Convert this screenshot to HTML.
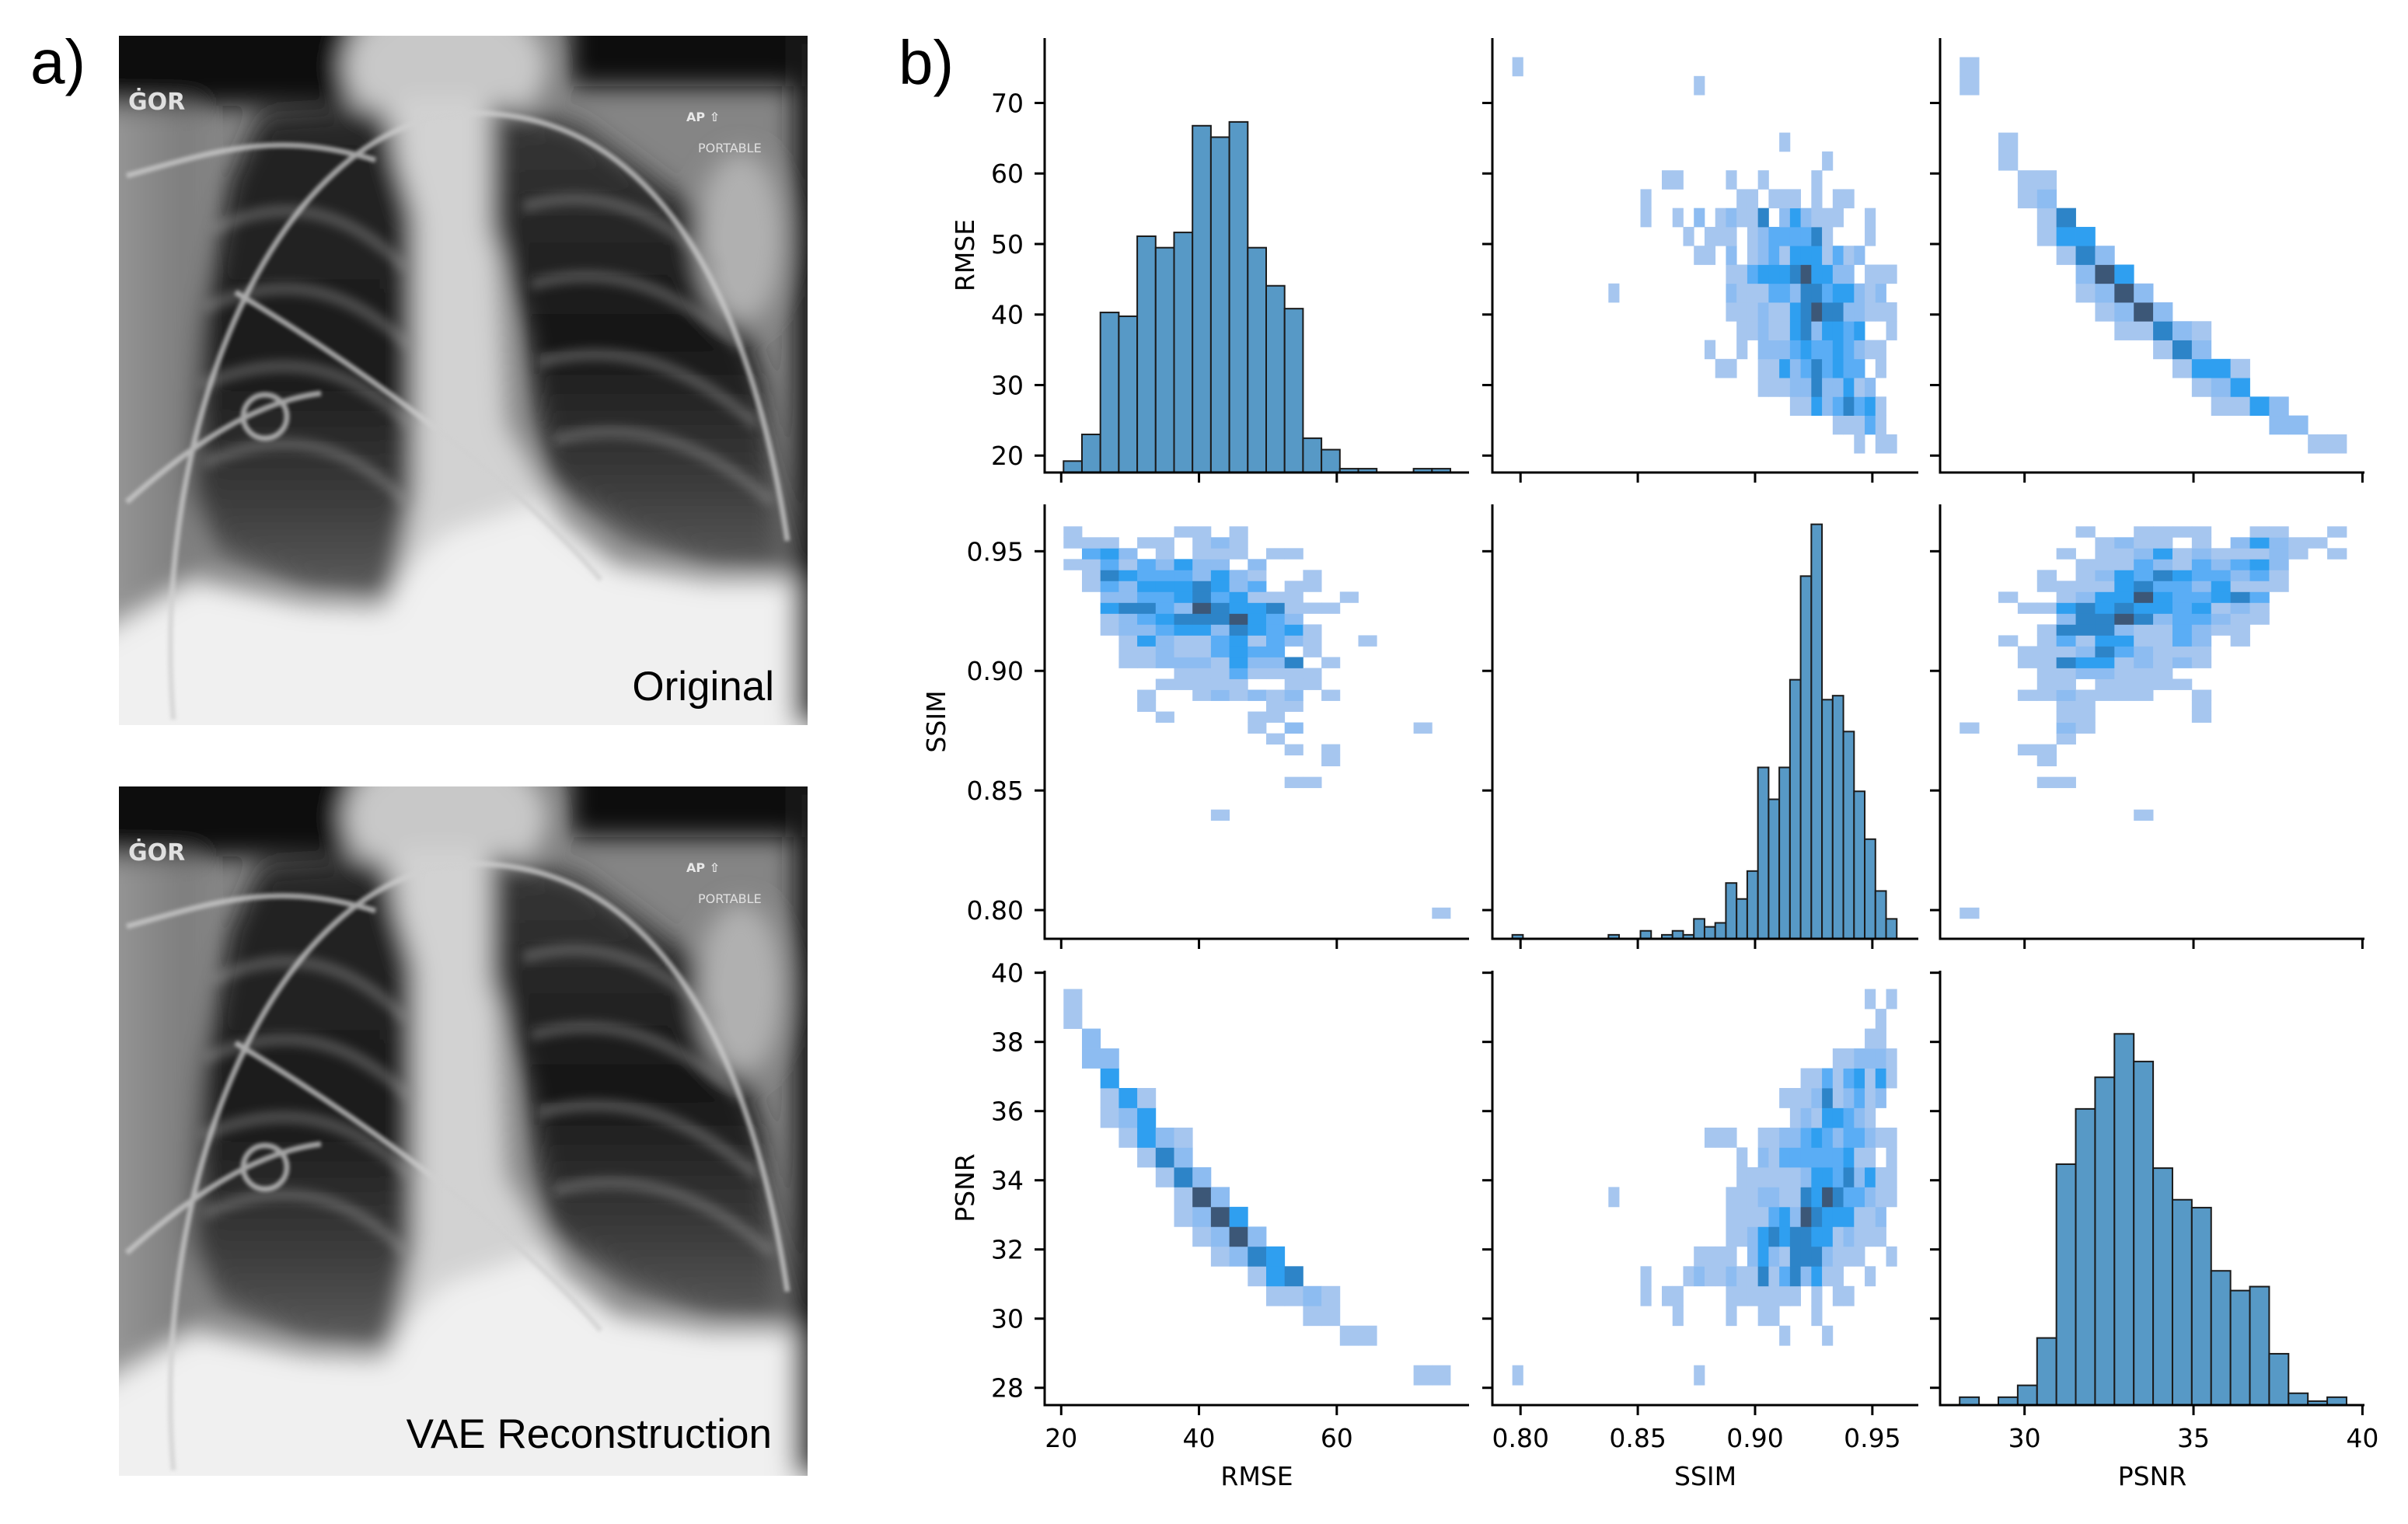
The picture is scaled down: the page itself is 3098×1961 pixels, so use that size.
<!DOCTYPE html>
<html><head><meta charset="utf-8"><style>
html,body{margin:0;padding:0;background:#fff;}
svg{display:block;}
</style></head><body>
<svg id="fig" width="3098" height="1961" viewBox="0 0 3098 1961" xmlns="http://www.w3.org/2000/svg">
<defs>
 <filter id="blur" filterUnits="userSpaceOnUse" x="-200" y="-200" width="1300" height="1300"><feGaussianBlur stdDeviation="16"/></filter>
 <filter id="blurS" filterUnits="userSpaceOnUse" x="-200" y="-200" width="1300" height="1300"><feGaussianBlur stdDeviation="7"/></filter>
 <filter id="blur2" filterUnits="userSpaceOnUse" x="-200" y="-200" width="1300" height="1300"><feGaussianBlur stdDeviation="2.5"/></filter>
 <clipPath id="xclip"><rect x="0" y="0" width="886" height="887"/></clipPath>
 <linearGradient id="lungL" x1="0" y1="0" x2="0" y2="1"><stop offset="0" stop-color="#262626"/><stop offset="0.55" stop-color="#1c1c1c"/><stop offset="0.8" stop-color="#3c3c3c"/><stop offset="1" stop-color="#5e5e5e"/></linearGradient>
 <linearGradient id="lungR" x1="0" y1="0" x2="0" y2="1"><stop offset="0" stop-color="#3a3a3a"/><stop offset="0.5" stop-color="#161616"/><stop offset="0.8" stop-color="#3a3a3a"/><stop offset="1" stop-color="#5a5a5a"/></linearGradient>
 <linearGradient id="sideL" x1="0" y1="0" x2="1" y2="0"><stop offset="0" stop-color="#a0a0a0"/><stop offset="1" stop-color="#7a7a7a"/></linearGradient>
 <g id="xray-art" clip-path="url(#xclip)">
  <rect x="0" y="0" width="886" height="887" fill="#858585"/>
  <g filter="url(#blur)">
   <rect x="-50" y="60" width="150" height="900" fill="url(#sideL)"/>
   <rect x="-60" y="-60" width="360" height="150" fill="#080808"/>
   <rect x="580" y="-60" width="360" height="125" fill="#0c0c0c"/>
   <ellipse cx="420" cy="40" rx="130" ry="90" fill="#c8c8c8"/>
   <polygon points="360,80 480,80 500,500 560,600 600,700 330,720 340,500" fill="#d2d2d2"/>
   <polygon points="184,101 338,94 380,234 380,585 352,725 240,711 128,662 93,585 107,375 142,185" fill="url(#lungL)"/>
   <polygon points="478,87 591,115 760,234 830,445 858,690 759,683 654,641 549,571 520,375 478,248" fill="url(#lungR)"/>
   <polygon points="360,700 420,640 540,600 640,680 760,700 900,700 900,940 -40,940 -40,780 100,700 240,730 340,735" fill="#f0f0f0"/>
   <ellipse cx="800" cy="260" rx="55" ry="110" fill="#b0b0b0"/>
   <rect x="868" y="0" width="60" height="887" fill="#1a1a1a"/>
  </g>
  <g filter="url(#blurS)" stroke="#9a9a9a" stroke-width="14" fill="none" opacity="0.45">
   <path d="M120,250 C220,200 300,230 370,300"/>
   <path d="M110,350 C220,300 300,330 375,400"/>
   <path d="M105,450 C220,400 300,430 375,500"/>
   <path d="M110,550 C220,500 300,530 370,600"/>
   <path d="M520,220 C620,190 700,230 770,300"/>
   <path d="M530,320 C640,290 720,330 800,400"/>
   <path d="M540,420 C650,390 740,430 820,500"/>
   <path d="M560,520 C670,490 760,530 840,600"/>
  </g>
  <g filter="url(#blur2)" fill="none" stroke="#d0d0d0" stroke-width="7" opacity="0.75">
   <path d="M70,880 C40,500 200,120 440,100 C640,90 800,250 860,650"/>
   <path d="M10,180 C120,150 200,120 330,160"/>
   <path d="M10,600 C100,520 180,470 260,460"/>
   <circle cx="188" cy="490" r="28"/>
   <path d="M150,330 C300,420 500,560 620,700"/>
  </g>
  <text x="12" y="95" font-family="DejaVu Sans, sans-serif" font-size="30" font-weight="bold" fill="#e0e0e0">ĠOR</text>
  <text x="730" y="110" font-family="DejaVu Sans, sans-serif" font-size="16" font-weight="bold" fill="#e8e8e8">AP ⇧</text>
  <text x="745" y="150" font-family="DejaVu Sans, sans-serif" font-size="16" fill="#e0e0e0">PORTABLE</text>
 </g>
</defs>
<text x="39" y="107" font-family="Liberation Sans, sans-serif" font-size="80" fill="#000">a)</text>
<text x="1156" y="108" font-family="Liberation Sans, sans-serif" font-size="80" fill="#000">b)</text>
<g transform="translate(153,46)"><use href="#xray-art"/></g>
<text x="996" y="901" text-anchor="end" font-family="Liberation Sans, sans-serif" font-size="53" fill="#000">Original</text>
<g transform="translate(153,1012)"><use href="#xray-art"/></g>
<text x="993" y="1863" text-anchor="end" font-family="Liberation Sans, sans-serif" font-size="53" fill="#000">VAE Reconstruction</text>
<g id="pairplot"></g>
</svg>
<script>
// ---- data ----
const varNames = ['RMSE', 'SSIM', 'PSNR'];
const rmseDomain = [17.6, 79.2];
const ssimDomain = [0.788, 0.9696];
const psnrDomain = [27.5, 40.06];
const rmseTicks = [20, 30, 40, 50, 60, 70];
const rmseXTicks = [20, 40, 60];
const ssimTicks = [0.80, 0.85, 0.90, 0.95];
const psnrYTicks = [28, 30, 32, 34, 36, 38, 40];
const psnrXTicks = [30, 35, 40];
const rmseBins = [20.34, 2.674, 21];
const ssimBins = [0.7965, 0.004553, 36];
const psnrBins = [28.08, 0.5725, 20];
const rmseCounts = [3,10,42,41,62,59,63,91,88,92,59,49,43,9,6,1,1,0,0,1,1];
const ssimCounts = [1,0,0,0,0,0,0,0,0,1,0,0,2,0,1,2,1,5,3,4,14,10,17,43,35,43,65,91,104,60,61,52,37,25,12,5];
const psnrCounts = [2,0,2,5,17,61,75,83,94,87,60,52,50,34,29,30,13,3,1,2];
const countMax = [114, 109, 110];
// 2D histogram cells: key = bin of first var, "bin:level" of second var
const rmseSsimCells = {
 20:'0:1', 19:'17:1', 16:'25:1', 15:'29:1',
 14:'14:1 15:1 20:1 23:1 28:1',
 13:'12:1 21:1 22:1 24:1 25:1 26:1 28:1 30:1 31:1',
 12:'12:1 15:1 17:2 19:1 20:2 21:1 22:1 23:5 25:2 26:4 27:2 28:1 29:1 30:1 33:1',
 11:'16:1 18:1 19:1 20:1 22:1 23:2 24:3 25:3 26:3 27:3 28:5 29:1 33:1',
 10:'17:1 18:1 20:2 22:1 23:2 24:3 25:1 26:4 27:4 28:4 29:1 30:3 31:1 32:2',
 9:'20:1 21:1 22:3 23:4 24:4 25:4 26:5 27:6 28:4 29:4 30:2 31:2 33:1 34:1 35:1',
 8:'9:1 20:2 21:1 22:1 23:1 24:3 25:3 26:2 27:5 28:5 29:3 30:4 31:4 32:2 33:1 34:2',
 7:'20:1 21:1 22:1 23:2 24:1 25:1 26:4 27:5 28:6 29:5 30:5 31:2 32:2 33:1 34:1 35:1',
 6:'21:1 22:1 23:2 24:1 25:1 26:4 27:5 28:2 29:4 30:4 31:3 32:4 35:1',
 5:'18:1 21:1 23:2 24:2 25:2 26:3 27:4 28:3 29:3 30:4 31:3 32:2 33:1 34:1',
 4:'19:1 20:1 23:1 24:1 25:4 26:2 27:3 28:5 29:3 30:4 31:3 32:3 34:1',
 3:'23:1 24:1 25:1 26:2 27:2 28:5 29:2 30:2 31:4 32:1 33:2',
 2:'26:1 27:1 28:4 29:2 30:3 31:5 32:3 33:4 34:1',
 1:'30:1 31:1 32:1 33:3 34:1',
 0:'32:1 34:1 35:1'
};
const rmsePsnrCells = {
 20:'0:1', 19:'0:1', 16:'2:1', 15:'2:1', 14:'3:1 4:1', 13:'3:1 4:2',
 12:'4:1 5:5', 11:'4:1 5:4 6:4', 10:'5:1 6:5 7:2', 9:'6:2 7:6 8:4',
 8:'6:1 7:2 8:6 9:2', 7:'7:1 8:2 9:6 10:2', 6:'8:1 9:1 10:5 11:2 12:1',
 5:'10:1 11:5 12:2', 4:'11:1 12:4 13:4 14:1', 3:'12:1 13:2 14:4',
 2:'13:1 14:1 15:4 16:2', 1:'16:2 17:2', 0:'18:1 19:1'
};
const psnrSsimCells = {
 19:'33:1 35:1', 18:'34:1', 17:'33:1 34:1',
 16:'30:1 31:1 32:2 33:2 34:2 35:1',
 15:'27:1 28:1 29:3 30:1 31:3 32:4 33:1 34:4 35:1',
 14:'25:1 26:1 27:1 28:2 29:5 30:1 31:2 32:3 33:1 34:2',
 13:'26:1 27:2 28:1 29:4 30:4 31:3 32:2 33:1',
 12:'18:1 19:1 20:1 23:1 24:1 25:2 26:2 27:3 28:4 29:3 30:2 31:3 32:3 33:2 34:1 35:1',
 11:'21:1 23:2 24:1 25:3 26:3 27:3 28:3 29:3 30:3 31:4 32:1 33:1 35:1',
 10:'21:1 22:1 23:1 24:1 25:1 26:1 27:2 28:4 29:4 30:3 31:5 32:2 33:4 34:1 35:1',
 9:'9:1 20:1 21:1 22:1 23:2 24:2 25:1 26:1 27:5 28:4 29:6 30:5 31:3 32:3 33:2 34:1 35:1',
 8:'20:1 21:1 22:1 23:1 24:3 25:4 26:2 27:6 28:5 29:4 30:4 31:4 32:1 33:1 34:2',
 7:'20:1 21:1 22:2 23:4 24:5 25:4 26:5 27:5 28:4 29:4 30:1 31:2 32:1 33:1 34:1',
 6:'17:1 18:1 19:1 20:1 22:2 23:4 24:2 25:1 26:5 27:5 28:5 29:2 30:1 31:1 32:1 35:1',
 5:'12:1 16:1 17:2 18:1 19:1 20:2 21:1 22:1 23:5 24:1 25:3 26:5 27:2 28:4 29:1 30:1 33:1',
 4:'12:1 14:1 15:1 20:1 21:1 22:1 23:1 24:1 25:1 26:1 28:1 30:1 31:1',
 3:'15:1 20:1 23:1 24:1 28:1',
 2:'25:1 29:1',
 0:'0:1 17:1'
};
const levelColors = ['none', '#a6c6ef', '#8dbcf1', '#5aadf5', '#2f9ff0', '#2d84c8', '#3c5777'];

// ---- layout ----
const colX = [1344, 1920, 2496];
const colW = [546, 548, 546];
const rowY = [49, 649, 1249];
const rowH = 559;
const domains = [rmseDomain, ssimDomain, psnrDomain];
const bins = [rmseBins, ssimBins, psnrBins];
const counts = [rmseCounts, ssimCounts, psnrCounts];
const yTicks = [rmseTicks, ssimTicks, psnrYTicks];
const xTicks = [rmseXTicks, ssimTicks, psnrXTicks];
const ylabelX = [1253, 1216, 1253];
const NS = 'http://www.w3.org/2000/svg';
const root = document.getElementById('pairplot');

function sx(v, c, val) { const d = domains[v]; return colX[c] + (val - d[0]) / (d[1] - d[0]) * colW[c]; }
function sy(v, r, val) { const d = domains[v]; return rowY[r] + rowH - (val - d[0]) / (d[1] - d[0]) * rowH; }
function mk(tag, attrs, parent) {
  const e = document.createElementNS(NS, tag);
  for (const k in attrs) e.setAttribute(k, attrs[k]);
  (parent || root).appendChild(e);
  return e;
}
function fmt(v, idx) { return idx === 1 ? v.toFixed(2) : String(v); }
function parseCells(obj) {
  const out = [];
  for (const a in obj) {
    obj[a].split(' ').forEach(p => { const q = p.split(':'); out.push([+a, +q[0], +q[1]]); });
  }
  return out;
}
const pairs = [
  {a: 0, b: 1, cells: parseCells(rmseSsimCells)},
  {a: 0, b: 2, cells: parseCells(rmsePsnrCells)},
  {a: 2, b: 1, cells: parseCells(psnrSsimCells)}
];

for (let r = 0; r < 3; r++) {
  for (let c = 0; c < 3; c++) {
    const g = mk('g', {});
    
    
    const bottom = rowY[r] + rowH;
    if (r === c) {
      const b = bins[c];
      counts[c].forEach((n, i) => {
        if (n <= 0) return;
        const x0 = sx(c, c, b[0] + i * b[1]), x1 = sx(c, c, b[0] + (i + 1) * b[1]);
        const h = n / countMax[c] * rowH;
        const bar = mk('rect', {x: x0, y: bottom - h, width: x1 - x0, height: h, fill: '#5799c6', stroke: '#1b1b1b', 'stroke-width': 2}, g);
        
        
      });
    } else {
      const p = pairs.find(q => (q.a === r && q.b === c) || (q.a === c && q.b === r));
      p.cells.forEach(cell => {
        const xv = (p.a === c) ? cell[0] : cell[1];
        const yv = (p.a === r) ? cell[0] : cell[1];
        const bx = bins[c], by = bins[r];
        const x0 = sx(c, c, bx[0] + xv * bx[1]), x1 = sx(c, c, bx[0] + (xv + 1) * bx[1]);
        const y0 = sy(r, r, by[0] + (yv + 1) * by[1]), y1 = sy(r, r, by[0] + yv * by[1]);
        const cellEl = mk('rect', {x: x0, y: y0, width: x1 - x0 + 0.4, height: y1 - y0 + 0.4, fill: levelColors[cell[2]]}, g);
        
        
      });
    }
    const sp = mk('path', {d: 'M' + colX[c] + ',' + rowY[r] + ' V' + bottom + ' H' + (colX[c] + colW[c]), fill: 'none', stroke: '#000', 'stroke-width': 3}, g);
    
    
    yTicks[r].forEach(t => {
      const y = sy(r, r, t);
      const tk = mk('line', {x1: colX[c] - 13, x2: colX[c], y1: y, y2: y, stroke: '#000', 'stroke-width': 3}, g);
      
      
      if (c === 0) {
        const tl = mk('text', {x: colX[c] - 27, y: y + 12, 'text-anchor': 'end', 'font-family': 'DejaVu Sans, sans-serif', 'font-size': 33, fill: '#000'}, g);
        tl.textContent = fmt(t, r);
        
        
      }
    });
    xTicks[c].forEach(t => {
      const x = sx(c, c, t);
      const tk = mk('line', {x1: x, x2: x, y1: bottom, y2: bottom + 13, stroke: '#000', 'stroke-width': 3}, g);
      
      
      if (r === 2) {
        const tl = mk('text', {x: x, y: bottom + 54, 'text-anchor': 'middle', 'font-family': 'DejaVu Sans, sans-serif', 'font-size': 33, fill: '#000'}, g);
        tl.textContent = fmt(t, c);
        
        
      }
    });
    if (c === 0) {
      const cy = rowY[r] + rowH / 2;
      const yl = mk('text', {x: ylabelX[r], y: cy, transform: 'rotate(-90 ' + ylabelX[r] + ' ' + cy + ')', 'text-anchor': 'middle', 'font-family': 'DejaVu Sans, sans-serif', 'font-size': 33, fill: '#000'}, g);
      yl.textContent = varNames[r];
      
      
    }
    if (r === 2) {
      const xl = mk('text', {x: colX[c] + colW[c] / 2, y: 1911, 'text-anchor': 'middle', 'font-family': 'DejaVu Sans, sans-serif', 'font-size': 33, fill: '#000'}, g);
      xl.textContent = varNames[c];
      
      
    }
  }
}
</script>
</body></html>
